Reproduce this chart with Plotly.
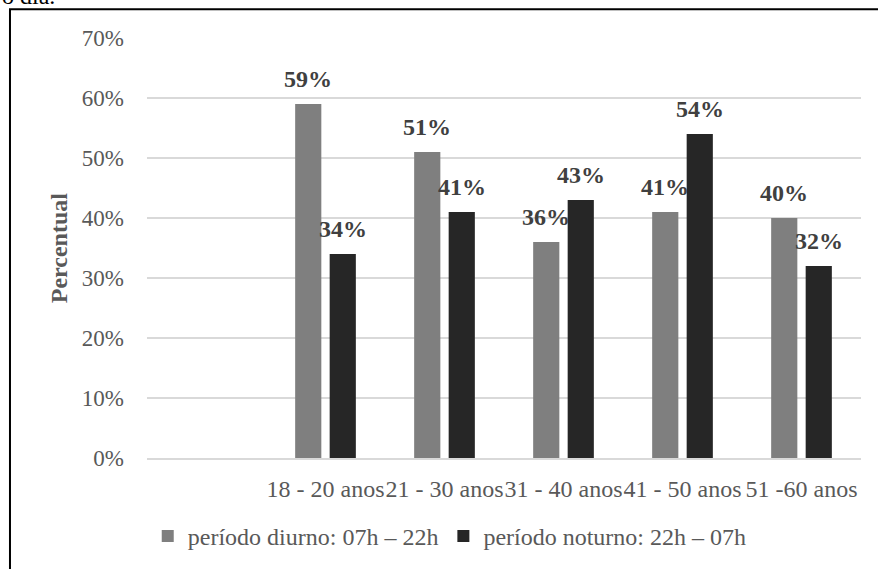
import plotly.graph_objects as go

# Age groups (an empty slot precedes the first group on the category axis)
faixas = ["18 - 20 anos", "21 - 30 anos", "31 - 40 anos", "41 - 50 anos", "51 -60 anos"]
diurno = [0.59, 0.51, 0.36, 0.41, 0.40]
noturno = [0.34, 0.41, 0.43, 0.54, 0.32]
y_ticks = [0, 0.1, 0.2, 0.3, 0.4, 0.5, 0.6, 0.7]
nome_diurno = "período diurno: 07h – 22h"
nome_noturno = "período noturno: 22h – 07h"

pos = list(range(1, len(faixas) + 1))

SERIF = "Liberation Serif, Times New Roman, serif"
BAR_W = 0.22
OFF_D = -0.255
OFF_N = 0.035

fig = go.Figure()
fig.add_trace(go.Bar(
    x=pos, y=diurno, name=nome_diurno,
    width=BAR_W, offset=OFF_D,
    marker=dict(color="#7f7f7f", line=dict(width=0)),
))
fig.add_trace(go.Bar(
    x=pos, y=noturno, name=nome_noturno,
    width=BAR_W, offset=OFF_N,
    marker=dict(color="#262626", line=dict(width=0)),
))

# value labels above each bar
annotations = []
for xs, vals, off in ((pos, diurno, OFF_D), (pos, noturno, OFF_N)):
    for xi, v in zip(xs, vals):
        annotations.append(dict(
            x=xi + off + BAR_W / 2, y=v, xref="x", yref="y",
            text=f"<b>{round(v * 100)}%</b>", showarrow=False,
            xanchor="center", yanchor="bottom", yshift=10,
            font=dict(family=SERIF, size=24, color="#404040"),
        ))

# axis title
annotations.append(dict(
    x=-0.123, y=0.5, xref="paper", yref="paper",
    text="<b>Percentual</b>", textangle=-90, showarrow=False,
    xanchor="center", yanchor="middle",
    font=dict(family=SERIF, size=24, color="#595959"),
))

# tail of the preceding sentence in the document
annotations.append(dict(
    x=-0.206, y=1.064, xref="paper", yref="paper",
    text="o dia.", showarrow=False, xanchor="left", yanchor="bottom",
    font=dict(family=SERIF, size=24, color="#000000"),
))

fig.update_layout(
    width=878, height=569,
    margin=dict(l=147, r=17, t=38, b=109),
    paper_bgcolor="white", plot_bgcolor="white",
    font=dict(family=SERIF, size=24, color="#595959"),
    showlegend=True,
    legend=dict(
        orientation="h", x=0.424, xanchor="center",
        yref="container", y=1 - 514 / 569, yanchor="top",
        font=dict(family=SERIF, size=24, color="#595959"),
        bgcolor="rgba(0,0,0,0)",
    ),
    annotations=annotations,
    shapes=[dict(
        type="rect", xref="paper", yref="paper",
        x0=-0.1919, x1=1.3, y0=-0.5, y1=1.0687,
        line=dict(color="black", width=2), fillcolor="rgba(0,0,0,0)",
        layer="above",
    )],
)

fig.update_xaxes(
    range=[-0.5, 5.5], tickmode="array", tickvals=pos, ticktext=faixas,
    tickangle=0, showgrid=False, zeroline=False,
    showline=True, linecolor="#d9d9d9", linewidth=2,
    ticks="", ticklabelstandoff=8,
    tickfont=dict(family=SERIF, size=24, color="#595959"),
)
fig.update_yaxes(
    range=[0, 0.7], tickmode="array", tickvals=y_ticks,
    tickformat=".0%", showgrid=True, gridcolor="#d9d9d9", gridwidth=2,
    zeroline=False, showline=False, ticks="", ticklabelstandoff=22,
    tickfont=dict(family=SERIF, size=23, color="#595959"),
)

fig.write_html("out.html")
